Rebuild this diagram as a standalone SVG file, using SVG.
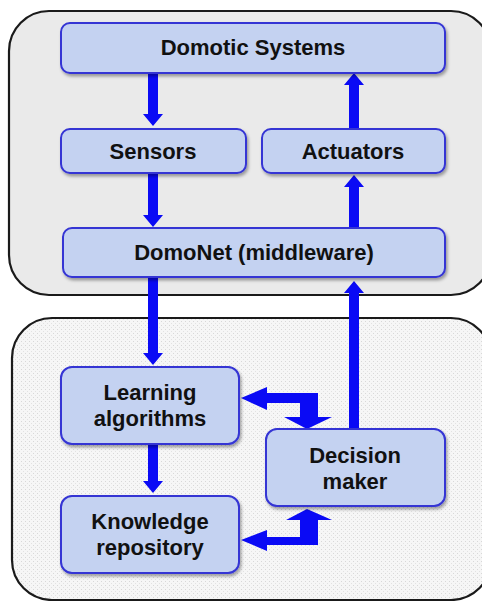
<svg xmlns="http://www.w3.org/2000/svg" width="482" height="601" viewBox="0 0 482 601">
<defs>
<filter id="sh" x="-10%" y="-10%" width="130%" height="140%">
<feDropShadow dx="1.5" dy="2.5" stdDeviation="1.5" flood-color="#000" flood-opacity="0.35"/>
</filter>
<pattern id="dots" width="4" height="4" patternUnits="userSpaceOnUse">
<rect width="4" height="4" fill="#f6f6f6"/>
<rect x="1" y="1" width="1" height="1" fill="#d8d8d8"/>
<rect x="3" y="3" width="1" height="1" fill="#e2e2e2"/>
</pattern>
<style>
.cont{stroke:#1a1a1a;stroke-width:2.2}
.box{fill:#c4d2f1;stroke:#3434d4;stroke-width:2;filter:url(#sh)}
.lbl{font-family:"Liberation Sans",Arial,sans-serif;font-weight:bold;font-size:22px;fill:#111;text-anchor:middle}
.arr{fill:#0a0af5;stroke:none}
</style>
</defs>
<g id="containers">
<rect id="top-container" class="cont" x="9" y="11" width="482" height="284" rx="40" fill="#eaeaea"/>
<rect id="bottom-container" class="cont" x="12" y="318" width="479" height="282" rx="40" fill="url(#dots)"/>
</g>
<g id="connectors">
<!-- Domotic -> Sensors -->
<polygon class="arr" points="148,73 158,73 158,114 163,114 153,126 143,114 148,114"/>
<!-- Sensors -> DomoNet -->
<polygon class="arr" points="148,173 158,173 158,215 163,215 153,227 143,215 148,215"/>
<!-- DomoNet -> Actuators -->
<polygon class="arr" points="349,228 359,228 359,187 364,187 354,175 344,187 349,187"/>
<!-- Actuators -> Domotic -->
<polygon class="arr" points="349,129 359,129 359,85 364,85 354,73 344,85 349,85"/>
<!-- DomoNet -> Learning -->
<polygon class="arr" points="148,277 158,277 158,353 163,353 153,365 143,353 148,353"/>
<!-- Decision -> DomoNet -->
<polygon class="arr" points="349,429 359,429 359,293 364,293 354,281 344,293 349,293"/>
<!-- Learning -> Knowledge -->
<polygon class="arr" points="148,444 158,444 158,481 163,481 153,493 143,481 148,481"/>
<!-- Learning <-> Decision -->
<polygon class="arr" points="241,398 267,387 267,393 318,393 318,417 332,417 307,429 284,417 300,417 300,403 267,403 267,410"/>
<!-- Knowledge <-> Decision -->
<polygon class="arr" points="241,540 267,530 267,537 300,537 300,520 286,520 307,509 332,520 318,520 318,545 267,545 267,551"/>
</g>
<g id="domotic-systems">
<rect class="box" x="61" y="23" width="384" height="50" rx="9"/>
<text class="lbl" x="253" y="55">Domotic Systems</text>
</g>
<g id="sensors">
<rect class="box" x="61" y="129" width="185" height="44" rx="9"/>
<text class="lbl" x="153" y="159">Sensors</text>
</g>
<g id="actuators">
<rect class="box" x="262" y="129" width="183" height="44" rx="9"/>
<text class="lbl" x="353" y="159">Actuators</text>
</g>
<g id="domonet">
<rect class="box" x="63" y="228" width="382" height="49" rx="9"/>
<text class="lbl" x="254" y="260">DomoNet (middleware)</text>
</g>
<g id="learning-algorithms">
<rect class="box" x="61" y="367" width="178" height="77" rx="11"/>
<text class="lbl" x="150" y="400">Learning</text>
<text class="lbl" x="150" y="426">algorithms</text>
</g>
<g id="knowledge-repository">
<rect class="box" x="61" y="496" width="178" height="77" rx="11"/>
<text class="lbl" x="150" y="529">Knowledge</text>
<text class="lbl" x="150" y="555">repository</text>
</g>
<g id="decision-maker">
<rect class="box" x="266" y="429" width="179" height="77" rx="11"/>
<text class="lbl" x="355" y="463">Decision</text>
<text class="lbl" x="355" y="489">maker</text>
</g>
</svg>
